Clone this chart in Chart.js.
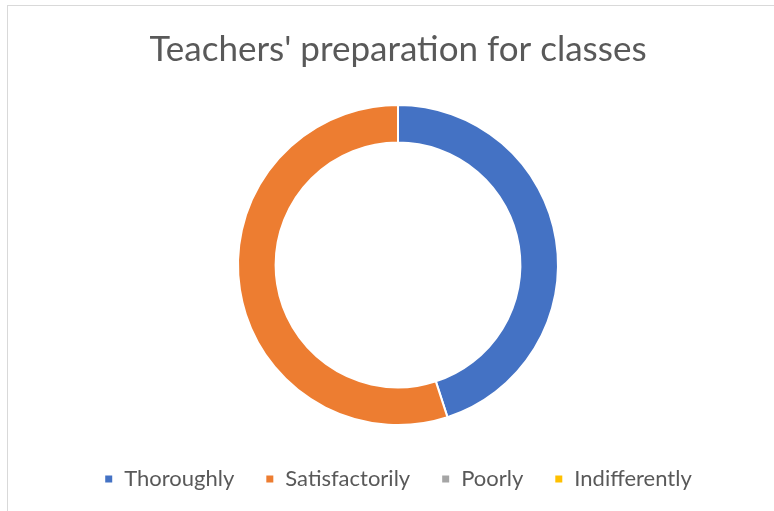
<!DOCTYPE html>
<html>
<head>
<meta charset="utf-8">
<script src="https://cdn.jsdelivr.net/npm/chart.js@4/dist/chart.umd.min.js"></script>
<style>
  html, body { margin: 0; padding: 0; background: #fff; }
  #wrap { position: relative; width: 774px; height: 511px; overflow: hidden; }
  #frame { position: absolute; left: 7px; top: 5px; width: 900px; height: 700px; border: 1px solid #d9d9d9; box-sizing: border-box; }
  canvas { position: absolute; left: 0; top: 0; }
</style>
</head>
<body>
<div id="wrap">
  <div id="frame"></div>
  <canvas id="chart" width="774" height="511"></canvas>
</div>
<script>
// 범주와 값
const categories = ["Thoroughly", "Satisfactorily", "Poorly", "Indifferently"];
const values = [45, 55, 0, 0];
const colors = ["#4472C4", "#ED7D31", "#A5A5A5", "#FFC000"];
const chartTitle = "Teachers' preparation for classes";

const canvas = document.getElementById("chart");

new Chart(canvas, {
  type: "doughnut",
  data: {
    labels: categories,
    datasets: [{
      data: values,
      backgroundColor: colors,
      borderColor: "#ffffff",
      borderWidth: 2,
      radius: 160
    }]
  },
  options: {
    responsive: false,
    animation: false,
    cutout: "76.5%",
    layout: { padding: { top: 0, bottom: 11, left: 22, right: 0 } },
    plugins: {
      tooltip: { enabled: false },
      title: {
        display: true,
        text: chartTitle,
        color: "#595959",
        font: { family: "Lato", size: 35, weight: "normal", lineHeight: 1.2 },
        padding: { top: 29, bottom: 22 }
      },
      legend: {
        position: "bottom",
        labels: {
          color: "#595959",
          font: { family: "Lato", size: 22 },
          boxWidth: 9,
          boxHeight: 9,
          padding: 31
        }
      }
    }
  }
});
</script>
</body>
</html>
